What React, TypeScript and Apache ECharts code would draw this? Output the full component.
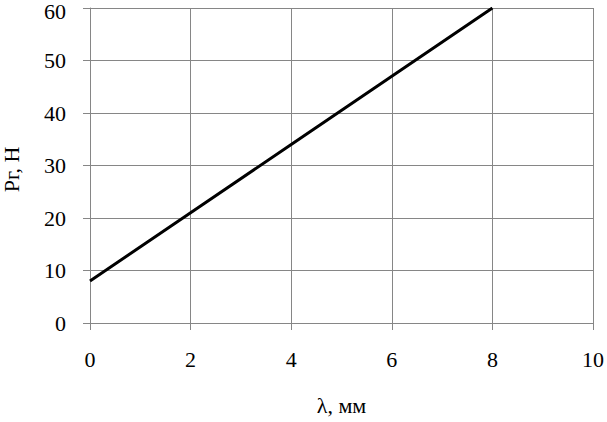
import React, { useEffect, useRef } from "react";
import * as echarts from "echarts";

const xValues = [0, 2, 4, 6, 8];
const yValues = [8, 21, 34, 47, 60];
const xTitle = "λ, мм";
const yTitle = "Рг, Н";

export default function App() {
  const ref = useRef<HTMLDivElement>(null);
  useEffect(() => {
    if (!ref.current) return;
    const chart = echarts.init(ref.current, null, { renderer: "svg" });
    const gray = "#868686";
    const font = "Liberation Serif";
    const fs = 22;
    const labelStyle = { color: "#000", fontFamily: font, fontSize: fs, fontWeight: "normal" as const };
    const rich = {
      a: { color: "#000", fontFamily: font, fontSize: fs },
      t: { color: "#000", fontFamily: font, fontSize: fs, lineHeight: 5, padding: [6, 0, 0, 0] },
    };
    chart.setOption({
      animation: false,
      backgroundColor: "#ffffff",
      textStyle: { fontFamily: font },
      grid: { left: 90, right: 14, top: 8, bottom: 99, containLabel: false, outerBoundsMode: "none" },
      xAxis: {
        type: "value",
        min: 0,
        max: 10,
        interval: 2,
        name: xTitle,
        nameLocation: "middle",
        nameGap: 71,
        nameTextStyle: labelStyle,
        axisLine: { show: true, lineStyle: { color: gray, width: 1 } },
        axisTick: { show: true, length: 7, lineStyle: { color: gray } },
        axisLabel: { ...labelStyle, margin: 25, formatter: "{a|{value}}", rich },
        splitLine: { show: true, lineStyle: { color: gray, width: 1 } },
      },
      yAxis: {
        type: "value",
        min: 0,
        max: 60,
        interval: 10,
        name: yTitle,
        nameLocation: "middle",
        nameGap: 68,
        nameRotate: 90,
        nameTextStyle: { ...labelStyle, padding: [0, 8, 0, 0] },
        axisLine: { show: true, lineStyle: { color: gray, width: 1 } },
        axisTick: { show: true, length: 7, lineStyle: { color: gray } },
        axisLabel: {
          ...labelStyle,
          margin: 24,
          formatter: (v: number) => (v === 60 ? `{t|${v}}` : `{a|${v}}`),
          rich,
        },
        splitLine: { show: true, lineStyle: { color: gray, width: 1 } },
      },
      series: [
        {
          type: "line",
          data: xValues.map((x, i) => [x, yValues[i]]),
          showSymbol: false,
          lineStyle: { color: "#000", width: 3 },
        },
      ],
    });
    return () => chart.dispose();
  }, []);
  return (
    <div
      ref={ref}
      style={{ position: "fixed", left: 0, top: 0, width: 607, height: 422 }}
    />
  );
}
